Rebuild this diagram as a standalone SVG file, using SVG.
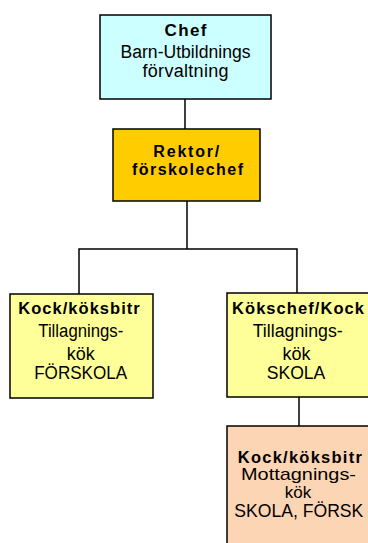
<svg xmlns="http://www.w3.org/2000/svg" width="368" height="543" viewBox="0 0 368 543">
<style>
.box{stroke:#000;stroke-width:1.5}
.t{font-family:"Liberation Sans",Arial,sans-serif;font-size:18px;fill:#000;text-anchor:middle}
.b{font-weight:bold;font-size:16.5px}
.conn{stroke:#000;stroke-width:1.5;fill:none}
</style>
<rect width="368" height="543" fill="#fff"/>
<g id="connectors">
<line class="conn" x1="185" y1="99" x2="185" y2="129"/>
<line class="conn" x1="187" y1="201" x2="187" y2="249"/>
<polyline class="conn" points="79,294 79,249 297,249 297,293"/>
<line class="conn" x1="299" y1="397" x2="299" y2="426"/>
</g>
<g id="chef">
<rect class="box" x="100" y="15" width="171" height="84" fill="#CCFFFF"/>
<text class="t b" x="185.5" y="36" style="font-size:17px" textLength="42" lengthAdjust="spacing">Chef</text>
<text class="t" x="185.5" y="58" textLength="130" lengthAdjust="spacingAndGlyphs">Barn-Utbildnings</text>
<text class="t" x="185.5" y="77" textLength="86" lengthAdjust="spacing">förvaltning</text>
</g>
<g id="rektor">
<rect class="box" x="113" y="129" width="147" height="72" fill="#FFCC00"/>
<text class="t b" x="186.3" y="157" style="font-size:16px" textLength="66" lengthAdjust="spacing">Rektor/</text>
<text class="t b" x="187.5" y="174.5" style="font-size:16px" textLength="111" lengthAdjust="spacing">förskolechef</text>
</g>
<g id="kock-forskola">
<rect class="box" x="10" y="294" width="143" height="104" fill="#FFFF99"/>
<text class="t b" x="79" y="314" textLength="121.5" lengthAdjust="spacing">Kock/köksbitr</text>
<text class="t" x="80.8" y="336.7" textLength="85" lengthAdjust="spacingAndGlyphs">Tillagnings-</text>
<text class="t" x="80.7" y="360">kök</text>
<text class="t" x="80.7" y="379.3" textLength="93" lengthAdjust="spacingAndGlyphs">FÖRSKOLA</text>
</g>
<g id="kokschef-skola">
<rect class="box" x="227" y="293" width="160" height="104" fill="#FFFF99"/>
<text class="t b" x="298" y="314" textLength="132" lengthAdjust="spacing">Kökschef/Kock</text>
<text class="t" x="297.7" y="336.7" textLength="90" lengthAdjust="spacingAndGlyphs">Tillagnings-</text>
<text class="t" x="296.5" y="359.5">kök</text>
<text class="t" x="296" y="378.5" textLength="58.6" lengthAdjust="spacingAndGlyphs">SKOLA</text>
</g>
<g id="kock-mottagning">
<rect class="box" x="227" y="426" width="160" height="130" fill="#FCD5B4"/>
<text class="t b" x="299.8" y="462.7" textLength="124" lengthAdjust="spacing">Kock/köksbitr</text>
<text class="t" x="298.5" y="480" style="font-size:17px" textLength="115" lengthAdjust="spacingAndGlyphs">Mottagnings-</text>
<text class="t" x="298" y="497.5" style="font-size:17px">kök</text>
<text class="t" x="298.8" y="517.3" textLength="129" lengthAdjust="spacingAndGlyphs">SKOLA, FÖRSK</text>
</g>
</svg>
